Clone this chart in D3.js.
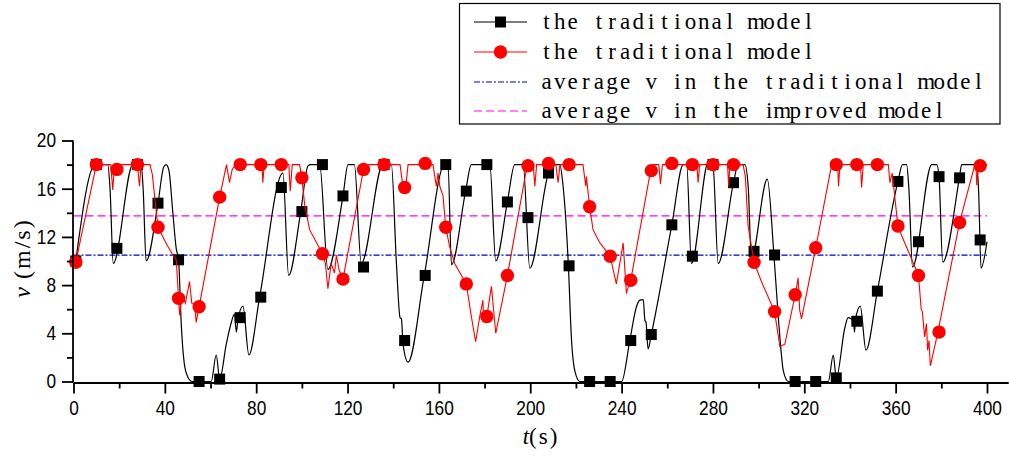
<!DOCTYPE html>
<html><head><meta charset="utf-8">
<script src="https://cdn.jsdelivr.net/npm/d3@7"></script>
<style>body{margin:0;background:#fff}svg{display:block}</style>
</head><body><svg id="c" width="1009" height="457"></svg>
<script>
// ---------- data ----------
const markerTimes = [1,10,19,28,37,46,55,64,73,82,91,100,109,118,127,136,145,154,163,172,181,190,199,208,217,226,235,244,253,262,271,280,289,298,307,316,325,334,343,352,361,370,379,388,397];
const traditionalMarkers = [10,18,11.05,18,14.8,10.1,0,0.2,5.3,7.0,16.1,14.1,18,15.4,9.5,18,3.4,8.8,18,15.8,18,14.9,13.6,17.3,9.6,0,0,3.4,3.9,13.0,10.4,18,16.5,10.8,10.5,0,0,0.3,5.0,7.5,16.6,11.6,17.0,16.9,11.75];
const improvedMarkers = [9.9,18,17.6,18,12.8,6.9,6.2,15.3,18,18,18,16.9,10.6,8.5,17.6,18,16.1,18.1,12.8,8.1,5.4,8.8,17.9,18.1,18,14.5,10.4,8.4,17.5,18.1,18,18,18,9.9,5.8,7.2,11.1,18,18,18,12.9,8.8,4.1,13.2,17.9];

const traditionalLine = [[1,10],[9.5,18],[15,18],[16,16],[17.4,9.8],[26,18],[29.6,18],[30.5,16],[31.8,10],[37,14.8],[39.5,17.8],[40.6,18],[41.8,17.5],[43.5,14],[45,11],[46,10.1],[47.2,4.7],[48.5,1.5],[50,0.4],[52,0],[60.3,0],[62.5,2.2],[64,0.2],[66.9,3.1],[69.1,4.9],[70.5,5.6],[71.3,4.1],[72,5.1],[74.2,6.25],[76.8,2.2],[81.5,7],[91.7,17.3],[94.2,8.8],[99.5,14.1],[102.7,17.9],[104,18],[107.8,18],[111.4,9.3],[118,15.4],[120.2,18],[123,18],[126,9.8],[135.5,18],[139.2,18],[141.4,9.8],[143,5.3],[143.6,5.2],[144.3,3.1],[146.5,1.6],[153.6,8.8],[162.5,18],[164,18],[165.5,9.7],[171.7,15.8],[174.2,18],[182.3,18],[184.9,10],[190,14.9],[193.2,18],[196.9,18],[199.8,9.4],[208,17.3],[210,18],[212.9,18],[214.5,16],[216.7,9.6],[218,3.7],[219.5,0.9],[221.7,0],[240,0],[243.6,3.4],[246.5,6.2],[248,6.75],[249.5,6.8],[250.2,5.1],[250.7,4.9],[251.6,2.7],[253,3.9],[262,13],[267,18],[268.5,18],[270.6,9.8],[278,18.2],[280,18],[282.3,9.8],[289,16.5],[291,18],[294,18],[295.5,16],[296.8,10.2],[303.8,16.8],[306.7,10.5],[308.6,5.4],[309.8,2.6],[310.8,0.9],[313,0],[330.5,0],[332.7,2.2],[334,0.3],[337.8,4.5],[339.2,5.3],[341.5,5.0],[342,4.1],[342.4,5.1],[344.5,6.25],[347,2.6],[352,7.5],[361,16.6],[363,18],[364.8,18],[365.8,16],[367.4,9.5],[375.8,18],[378,18],[379,17],[380.6,9.9],[388,17],[388.9,18],[395.5,18],[396.3,16],[397.4,9.4],[400,11.6]];

const improvedLine = [[1,9.9],[10,18],[16.3,18],[17.2,15.9],[17.8,17.6],[18.5,18],[28,18],[28.9,16.2],[29.6,18],[33.5,18],[34.5,17.2],[35.5,15.4],[37,12.8],[41,11.3],[43.5,10.5],[45,10.1],[46,6.9],[46.5,5.5],[47.5,7.3],[49,6.5],[50.8,8.3],[51.8,6.5],[53,6.5],[53.7,4.9],[55,6.2],[64,15.3],[67,18],[68.3,16.5],[69.5,17.6],[71,18],[82.5,18],[82.9,16.5],[83.5,18],[94.3,18],[94.9,15.8],[95.8,18],[99,18],[100,16.9],[101.2,14.7],[103.4,12.6],[109,10.6],[110.3,9.8],[111.4,7.7],[112.8,9.8],[114.3,9],[115.1,10.5],[116.3,9.25],[118,8.5],[127,17.6],[129,18],[143,18],[144.3,16.1],[145.3,15.8],[146.5,18],[157.4,18],[158.9,16.2],[159.6,17.3],[160.4,16.2],[161.8,15.4],[163,12.8],[164.7,11.2],[166.9,9.8],[172,8.1],[174.2,5.4],[176.1,3.3],[177.9,5.4],[179.3,6.75],[179.6,5.0],[181,5.4],[183,7.9],[184.9,4.0],[190,8.8],[198.6,17.9],[199.8,18],[201.3,18],[202,16.2],[202.8,18],[211.2,18],[212.2,16.5],[213,18],[223.1,18],[224.3,16.2],[224.6,17],[226,14.5],[227.5,12.6],[230.5,11.5],[235,10.4],[237.7,8.1],[240.7,11.5],[242.1,7.3],[242.5,7.6],[244,8.4],[252.7,17.5],[253.8,18],[256.3,18],[257,16.4],[257.9,18],[273,18],[273.5,16.5],[274.2,18],[286.4,18],[286.9,16.2],[287.4,18],[293.2,18],[294.2,17],[295.4,12.9],[298,9.9],[301,8.4],[307,5.8],[309.3,2.9],[311.5,3.1],[316,7.2],[317.3,8.6],[318,5.9],[318.8,5.2],[325,11.1],[332,18],[334.6,18],[335,16.2],[335.6,18],[344.6,18],[345.1,16.1],[345.8,18],[356.8,18],[357.5,16.5],[358.5,17.3],[361,12.9],[362.2,12.3],[367.8,9.8],[370,8.8],[371.2,6],[371.7,5.8],[372.7,3.7],[373.5,4.8],[374,2.6],[374.6,3.4],[375.2,1.3],[378.5,4.1],[388,13.2],[394.7,18],[395.2,18],[395.5,16.3],[396.2,18],[400,18]];

const avgTraditional = 10.48;
const avgImproved = 13.75;
const avgSpan = [0, 400];

const xMajorTicks = [0,40,80,120,160,200,240,280,320,360,400];
const xMinorTicks = [20,60,100,140,180,220,260,300,340,380];
const yMajorTicks = [0,4,8,12,16,20];
const yMinorTicks = [2,6,10,14,18];

const legendLabels = ["the traditional model","the traditional model","average v in the traditional model","average v in the improved model"];

// ---------- drawing ----------
const svg = d3.select("#c");
const x = d3.scaleLinear().domain([0, 409.2]).range([73.5, 1008]);
const y = d3.scaleLinear().domain([0, 20]).range([381.5, 140.5]);

const tickFont = "'Liberation Sans', Arial, sans-serif";
const serif = "'Liberation Serif', 'DejaVu Serif', serif";

// average lines
svg.append("line").attr("x1", x(avgSpan[0])).attr("x2", x(avgSpan[1]))
  .attr("y1", y(avgTraditional)).attr("y2", y(avgTraditional))
  .attr("stroke", "#0000cc").attr("stroke-width", 1.2).attr("stroke-dasharray", "6,2,2,2");
svg.append("line").attr("x1", x(avgSpan[0])).attr("x2", x(avgSpan[1]))
  .attr("y1", y(avgImproved)).attr("y2", y(avgImproved))
  .attr("stroke", "#ff00ff").attr("stroke-width", 1.2).attr("stroke-dasharray", "8,4");

// black line
const lineSmooth = d3.line().x(d => x(d[0])).y(d => y(d[1])).curve(d3.curveMonotoneX);
const lineLin = d3.line().x(d => x(d[0])).y(d => y(d[1]));
svg.append("path").attr("d", lineSmooth(traditionalLine)).attr("fill", "none")
  .attr("stroke", "#000").attr("stroke-width", 1.2);
const sq = 11;
svg.append("g").selectAll("rect").data(markerTimes.map((t, i) => [t, traditionalMarkers[i]])).join("rect")
  .attr("x", d => x(d[0]) - sq / 2).attr("y", d => y(d[1]) - sq / 2)
  .attr("width", sq).attr("height", sq).attr("fill", "#000");

// red line
svg.append("path").attr("d", lineLin(improvedLine)).attr("fill", "none")
  .attr("stroke", "#ff0000").attr("stroke-width", 1.1);
svg.append("g").selectAll("circle").data(markerTimes.map((t, i) => [t, improvedMarkers[i]])).join("circle")
  .attr("cx", d => x(d[0])).attr("cy", d => y(d[1])).attr("r", 6.7).attr("fill", "#ff0000");

// axes
function styleAxis(g) {
  g.selectAll("path,line").attr("stroke", "#000").attr("stroke-width", 1.8);
  g.selectAll("text").attr("font-family", tickFont).attr("font-size", 20).attr("fill", "#000")
    .each(function () {
      const s = d3.select(this); const n = s.text().length;
      if (n) s.attr("textLength", n * 9.6).attr("lengthAdjust", "spacingAndGlyphs");
    });
}
const xAxisY = y(0) + 1;
svg.append("g").attr("transform", `translate(0,${xAxisY})`)
  .call(d3.axisBottom(x).tickValues(xMinorTicks).tickSize(6).tickSizeOuter(0).tickFormat(""))
  .call(styleAxis);
svg.append("g").attr("transform", `translate(0,${xAxisY})`)
  .call(d3.axisBottom(x).tickValues(xMajorTicks).tickSize(11).tickPadding(7).tickSizeOuter(0).tickFormat(d3.format("d")))
  .call(styleAxis);
svg.append("g").attr("transform", `translate(${x(0) - 0.5},0)`)
  .call(d3.axisLeft(y).tickValues(yMinorTicks).tickSize(6).tickSizeOuter(0).tickFormat(""))
  .call(g => g.select(".domain").remove())
  .call(styleAxis);
const yAxisG = svg.append("g").attr("transform", `translate(${x(0) - 0.5},0)`)
  .call(d3.axisLeft(y).tickValues(yMajorTicks).tickSize(11).tickPadding(6).tickSizeOuter(0).tickFormat(d3.format("d")))
  .call(styleAxis);
yAxisG.select(".domain").attr("d", `M0,${xAxisY}V${y(20)}`);

// axis titles
const xt = svg.append("text").attr("x", 541).attr("y", 444).attr("text-anchor", "middle")
  .attr("font-family", serif).attr("font-size", 23).attr("fill", "#000");
xt.append("tspan").attr("font-style", "italic").text("t");
xt.append("tspan").attr("letter-spacing", 2).text("(s)");

const yt = svg.append("text").attr("transform", "translate(30,258) rotate(-90)").attr("text-anchor", "middle")
  .attr("font-family", serif).attr("font-size", 24).attr("fill", "#000");
yt.append("tspan").attr("font-style", "italic").text("v");
yt.append("tspan").attr("letter-spacing", 2).text(" (m/s)");

// legend
const lg = svg.append("g");
lg.append("rect").attr("x", 459.5).attr("y", 3.5).attr("width", 540.5).attr("height", 120.5)
  .attr("fill", "#fff").attr("stroke", "#000").attr("stroke-width", 1.2);
const rowsY = [22, 52, 82, 111];
const legStyles = [
  {stroke: "#000", dash: null, w: 1.2, mark: "sq"},
  {stroke: "#ff0000", dash: null, w: 1.1, mark: "ci"},
  {stroke: "#0000cc", dash: "6,2,2,2", w: 1.2, mark: null},
  {stroke: "#ff00ff", dash: "8,4", w: 1.2, mark: null}
];
const cellW = 13.09;
legendLabels.forEach((lab, i) => {
  const cy = rowsY[i], st = legStyles[i];
  const l = lg.append("line").attr("x1", 474).attr("x2", 527).attr("y1", cy).attr("y2", cy)
    .attr("stroke", st.stroke).attr("stroke-width", st.w);
  if (st.dash) l.attr("stroke-dasharray", st.dash);
  if (st.mark === "sq") lg.append("rect").attr("x", 500.5 - sq / 2).attr("y", cy - sq / 2).attr("width", sq).attr("height", sq).attr("fill", "#000");
  if (st.mark === "ci") lg.append("circle").attr("cx", 500.5).attr("cy", cy).attr("r", 6.7).attr("fill", "#ff0000");
  // monospaced layout with serif glyphs (each character centred in its cell)
  const xs = Array.from(lab, (c, k) => (540 + cellW * (k + 0.5)).toFixed(2)).join(" ");
  lg.append("text").attr("x", xs).attr("y", cy + 7).attr("text-anchor", "middle")
    .attr("font-family", serif).attr("font-size", 23).attr("fill", "#000").text(lab);
});
</script></body></html>
